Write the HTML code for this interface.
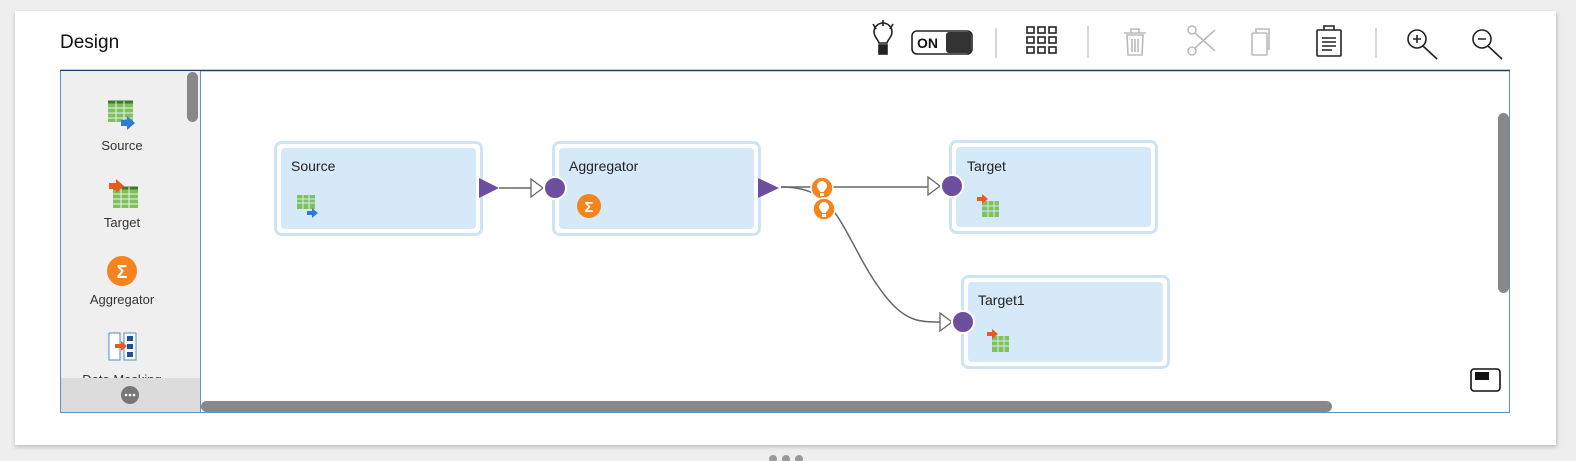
<!DOCTYPE html>
<html><head><meta charset="utf-8"><style>
html,body{margin:0;padding:0;width:1576px;height:461px;background:#eeeeee;overflow:hidden;font-family:"Liberation Sans",sans-serif}
svg{display:block}
</style></head><body>
<svg width="1576" height="461" viewBox="0 0 1576 461" xmlns="http://www.w3.org/2000/svg" style="position:absolute;left:0;top:0">
<defs><filter id="sh" x="-2%" y="-5%" width="104%" height="112%"><feGaussianBlur stdDeviation="2"/></filter></defs>
<rect x="15" y="13" width="1542" height="434" fill="#bbb" filter="url(#sh)"/>
<rect x="15" y="11" width="1541" height="434" fill="#fff"/>
<text x="60" y="48" font-size="19" fill="#111">Design</text>
<!-- toolbar -->
<g stroke="#222" stroke-width="1.6" fill="none">
<path d="M879 43 c-1 -4 -5 -6 -5 -11 a9 9 0 1 1 18 0 c0 5 -4 7 -5 11 z" fill="#fff"/>
<rect x="879" y="45" width="8" height="9" fill="#222"/>
<path d="M883 20v6M873 24l3 5M893 24l-3 5"/>
</g>
<rect x="912" y="31" width="60" height="23" rx="5" fill="#fff" stroke="#222" stroke-width="1.6"/>
<rect x="946" y="32" width="25" height="21" rx="3" fill="#333"/>
<text x="917" y="48" font-size="14" font-weight="bold" fill="#111">ON</text>
<g stroke="#ccc" stroke-width="1.5"><path d="M996 28v30M1088 26v32M1376 28v30"/></g>
<g fill="none" stroke="#222" stroke-width="1.6">
<rect x="1027" y="27" width="7" height="6"/><rect x="1038" y="27" width="7" height="6"/><rect x="1049" y="27" width="7" height="6"/>
<rect x="1027" y="37" width="7" height="6"/><rect x="1038" y="37" width="7" height="6"/><rect x="1049" y="37" width="7" height="6"/>
<rect x="1027" y="47" width="7" height="6"/><rect x="1038" y="47" width="7" height="6"/><rect x="1049" y="47" width="7" height="6"/>
</g>
<g fill="none" stroke="#bbb" stroke-width="1.6">
<path d="M1124 33h22M1131 33v-4h8v4M1127 35h16l-1 20h-14z M1132 39v13M1135 39v13M1138 39v13"/>
<circle cx="1192" cy="30" r="4"/><circle cx="1192" cy="51" r="4"/><path d="M1195 33l20 18M1195 48l20-18"/>
<rect x="1252" y="33" width="15" height="22" rx="1"/><path d="M1256 33v-4h13v20h-2"/>
</g>
<g fill="none" stroke="#222" stroke-width="1.6">
<rect x="1317" y="30" width="24" height="26" rx="1"/><path d="M1324 30v-4h10v4M1322 38h14M1322 42h14M1322 46h14M1322 50h10"/>
<circle cx="1417" cy="39" r="9"/><path d="M1423 46l14 13M1413 39h8M1417 35v8"/>
<circle cx="1482" cy="39" r="9"/><path d="M1488 46l14 13M1478 39h8"/>
</g>
<!-- canvas frame -->
<rect x="60.5" y="70.5" width="1449" height="342" fill="#fff" stroke="#5b93c6"/>
<path d="M60 70.5h1450" stroke="#1c3d5e" stroke-width="1.5"/>
<rect x="61" y="71" width="139" height="341" fill="#efefef"/>
<path d="M200.5 71v341" stroke="#5b93c6"/>
<rect x="187" y="72" width="11" height="50" rx="5.5" fill="#888"/>
<rect x="201" y="401" width="1131" height="11" rx="5.5" fill="#888"/>
<rect x="1498" y="113" width="11" height="180" rx="5.5" fill="#888"/>
<rect x="1471" y="369" width="29" height="22" rx="3" fill="#fff" stroke="#111" stroke-width="1.6"/>
<rect x="1475" y="372" width="14" height="8" fill="#111"/>
<!-- palette items -->
<g>
<rect x="108" y="101" width="25" height="21" fill="#7dc25b"/><path d="M108 102h25" stroke="#3b7a2a" stroke-width="3"/>
<g stroke="#efefef" stroke-width="1"><path d="M108 108h25M108 113h25M108 118h25M116 101v21M124 101v21"/></g>
<path d="M121 120h6v-4l8 7-8 7v-4h-6z" fill="#2f7ad6"/>
<text x="122" y="150" font-size="13" fill="#333" text-anchor="middle">Source</text>
<rect x="113" y="187" width="25" height="21" fill="#7dc25b"/><path d="M113 188h25" stroke="#3b7a2a" stroke-width="3"/>
<g stroke="#efefef" stroke-width="1"><path d="M113 194h25M113 199h25M113 204h25M121 187v21M129 187v21"/></g>
<path d="M109 183h7v-4l8 7-8 7v-4h-7z" fill="#ea5a1f"/>
<text x="122" y="227" font-size="13" fill="#333" text-anchor="middle">Target</text>
<circle cx="122" cy="271" r="15" fill="#f4841d"/><text x="122" y="278" font-size="18" font-weight="bold" fill="#fff" text-anchor="middle">Σ</text>
<text x="122" y="304" font-size="13" fill="#333" text-anchor="middle">Aggregator</text>
<rect x="109" y="333" width="11" height="27" fill="#fff" stroke="#4a8fd0"/><rect x="124" y="333" width="12" height="27" fill="#fff" stroke="#4a8fd0"/>
<rect x="127" y="336" width="6" height="5" fill="#1f4f99"/><rect x="127" y="344" width="6" height="5" fill="#1f4f99"/><rect x="127" y="352" width="6" height="5" fill="#1f4f99"/>
<path d="M115 344h6v-3l6 5-6 5v-3h-6z" fill="#ea5a1f"/>
<text x="122" y="384" font-size="13" fill="#333" text-anchor="middle">Data Masking</text>
<rect x="61" y="378" width="139" height="34" fill="#dcdcdc"/>
<circle cx="130" cy="395" r="9" fill="#777"/>
<g fill="#fff"><circle cx="126" cy="395" r="1.3"/><circle cx="130" cy="395" r="1.3"/><circle cx="134" cy="395" r="1.3"/></g>
</g>
<!-- nodes -->
<g>
<rect x="275.5" y="142.5" width="206" height="92" rx="6" fill="#fff" stroke="#cfe4f3" stroke-width="3"/>
<rect x="281" y="148" width="195" height="81" rx="4" fill="#d6e9f8"/>
<text x="291" y="171" font-size="14" fill="#222">Source</text>
<rect x="297" y="195" width="18" height="14" fill="#7dc25b"/><g stroke="#d6e9f8" stroke-width="1"><path d="M297 199h18M297 203h18M303 195v14M309 195v14"/></g>
<path d="M307 211h5v-3l6 5-6 5v-3h-5z" fill="#2f7ad6"/>

<rect x="553.5" y="142.5" width="206" height="92" rx="6" fill="#fff" stroke="#cfe4f3" stroke-width="3"/>
<rect x="559" y="148" width="195" height="81" rx="4" fill="#d6e9f8"/>
<text x="569" y="171" font-size="14" fill="#222">Aggregator</text>
<circle cx="589" cy="206" r="12" fill="#f4841d"/><text x="589" y="212" font-size="15" font-weight="bold" fill="#fff" text-anchor="middle">Σ</text>

<rect x="950.5" y="141.5" width="206" height="91" rx="6" fill="#fff" stroke="#cfe4f3" stroke-width="3"/>
<rect x="956" y="147" width="195" height="80" rx="4" fill="#d6e9f8"/>
<text x="967" y="171" font-size="14" fill="#222">Target</text>
<rect x="982" y="201" width="17" height="16" fill="#7dc25b"/><g stroke="#d6e9f8" stroke-width="1"><path d="M982 206h17M982 211h17M988 201v16M994 201v16"/></g>
<path d="M977 197h5v-3l6 5-6 5v-3h-5z" fill="#ea5a1f"/>

<rect x="962.5" y="276.5" width="206" height="91" rx="6" fill="#fff" stroke="#cfe4f3" stroke-width="3"/>
<rect x="968" y="282" width="195" height="80" rx="4" fill="#d6e9f8"/>
<text x="978" y="305" font-size="14" fill="#222">Target1</text>
<rect x="992" y="336" width="17" height="16" fill="#7dc25b"/><g stroke="#d6e9f8" stroke-width="1"><path d="M992 341h17M992 346h17M998 336v16M1004 336v16"/></g>
<path d="M987 332h5v-3l6 5-6 5v-3h-5z" fill="#ea5a1f"/>
</g>
<!-- connectors -->
<g fill="none" stroke="#666" stroke-width="1.5">
<path d="M499 188h32"/>
<path d="M781 187h147"/>
<path d="M781 187c30 0 45 10 60 35s25 50 45 75s35 25 54 25"/>
</g>
<path d="M479 178l20 10-20 10z" fill="#6d4fa0"/>
<path d="M531 179l12 9-12 9z" fill="#fff" stroke="#666" stroke-width="1.3"/>
<circle cx="555" cy="188" r="11" fill="#6d4fa0" stroke="#fff" stroke-width="2"/>
<path d="M758 178l21 10-21 10z" fill="#6d4fa0"/>
<path d="M928 177l12 9-12 9z" fill="#fff" stroke="#666" stroke-width="1.3"/>
<circle cx="952" cy="186" r="11" fill="#6d4fa0" stroke="#fff" stroke-width="2"/>
<path d="M940 313l12 9-12 9z" fill="#fff" stroke="#666" stroke-width="1.3"/>
<circle cx="963" cy="322" r="11" fill="#6d4fa0" stroke="#fff" stroke-width="2"/>
<g>
<circle cx="822" cy="188" r="11" fill="#f4841d" stroke="#fff" stroke-width="1.5"/>
<path d="M820 192c0-2-3-3-3-6a5 5 0 1 1 10 0c0 3-3 4-3 6z" fill="#fff"/><rect x="820" y="193" width="4" height="3" fill="#fff"/>
<circle cx="824" cy="209" r="11" fill="#f4841d" stroke="#fff" stroke-width="1.5"/>
<path d="M822 213c0-2-3-3-3-6a5 5 0 1 1 10 0c0 3-3 4-3 6z" fill="#fff"/><rect x="822" y="214" width="4" height="3" fill="#fff"/>
</g>
<g fill="#999"><circle cx="773" cy="459" r="4"/><circle cx="786" cy="459" r="4"/><circle cx="799" cy="459" r="4"/></g>
</svg>
</body></html>
